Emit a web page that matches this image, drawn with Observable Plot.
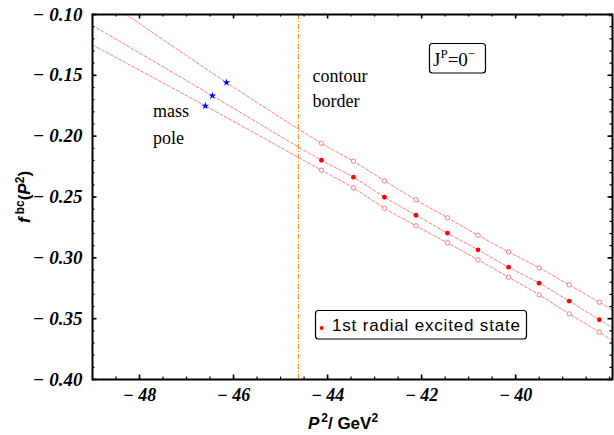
<!DOCTYPE html>
<html>
<head>
<meta charset="utf-8">
<script src="https://cdn.jsdelivr.net/npm/d3@7"></script>
<script src="https://cdn.jsdelivr.net/npm/@observablehq/plot@0.6"></script>
<style>
  html, body { margin: 0; padding: 0; background: white; }
  #chart { width: 614px; height: 435px; }
</style>
</head>
<body>
<div id="chart"></div>
<script>
// ---- data ----
const xPoints = [-44.13, -43.45, -42.79, -42.12, -41.45, -40.80, -40.15, -39.50, -38.86, -38.22];
const upperValues  = [-0.2058, -0.2206, -0.2367, -0.2523, -0.2671, -0.2814, -0.2951, -0.3082, -0.3222, -0.3365];
const middleValues = [-0.2198, -0.2337, -0.2502, -0.2650, -0.2797, -0.2934, -0.3077, -0.3208, -0.3356, -0.3509];
const lowerValues  = [-0.2280, -0.2425, -0.2592, -0.2737, -0.2877, -0.3016, -0.3159, -0.3304, -0.3460, -0.3611];
const seriesNames = ["upper", "middle", "lower"];
const starX = [-46.15, -46.45, -46.60];
const starY = [-0.1559, -0.1668, -0.1751];
// dashed fit curves where they meet the frame
const curveLeftX  = [-48.28, -49.0, -49.0];
const curveLeftY  = [-0.100, -0.109, -0.125];
const curveRightX = [-37.94, -37.94, -37.94];
const curveRightY = [-0.3425, -0.3577, -0.3680];
const contourX = -44.62;
const xTicks = [-48, -46, -44, -42, -40];
const yTicks = [-0.40, -0.35, -0.30, -0.25, -0.20, -0.15, -0.10];
const xDomain = [-49, -37.94];
const yDomain = [-0.40, -0.10];

// ---- tables built from the arrays ----
const seriesValues = [upperValues, middleValues, lowerValues];
const curveRows = [];
seriesNames.forEach((s, i) => {
  curveRows.push({s, x: curveLeftX[i], y: curveLeftY[i]});
  curveRows.push({s, x: starX[i], y: starY[i]});
  xPoints.forEach((x, j) => curveRows.push({s, x, y: seriesValues[i][j]}));
  curveRows.push({s, x: curveRightX[i], y: curveRightY[i]});
});
const openRows = [];
xPoints.forEach((x, j) => {
  openRows.push({x, y: upperValues[j]});
  openRows.push({x, y: lowerValues[j]});
});
const filledRows = xPoints.map((x, j) => ({x, y: middleValues[j]}));
const starRows = starX.map((x, i) => ({x, y: starY[i]}));

const xMinor = d3.range(-49, -37.9, 0.5);
const yMinor = d3.range(-0.40, -0.0995, 0.01);

const W = 614, H = 435, mT = 14, mR = 2, mB = 56, mL = 92;
const fw = W - mL - mR, fh = H - mT - mB;

const tickFont = {fontFamily: "Liberation Serif", fontWeight: "bold", fontStyle: "italic", fill: "black"};

const chart = Plot.plot({
  width: W, height: H,
  marginTop: mT, marginRight: mR, marginBottom: mB, marginLeft: mL,
  x: {domain: xDomain, axis: null},
  y: {domain: yDomain, axis: null},
  style: {background: "white", overflow: "visible"},
  marks: [
    Plot.line(curveRows, {x: "x", y: "y", z: "s", stroke: "#ff8080", strokeWidth: 1, strokeDasharray: "3,2", curve: "catmull-rom", clip: true}),
    Plot.ruleX([contourX], {stroke: "#ff8c00", strokeWidth: 1, strokeDasharray: "5,2,1,2"}),
    Plot.dot(openRows, {x: "x", y: "y", r: 2.2, stroke: "#ff7070", fill: "white", strokeWidth: 0.9}),
    Plot.dot(filledRows, {x: "x", y: "y", r: 2.4, fill: "#ff0000"}),
    Plot.dot(starRows, {x: "x", y: "y", symbol: "star", r: 2.4, fill: "#0000ff"}),
    // inward ticks
    Plot.ruleX(xMinor, {insetTop: fh - 2.5, stroke: "black", strokeWidth: 1.2}),
    Plot.ruleX(xMinor, {insetBottom: fh - 2.5, stroke: "black", strokeWidth: 1.2}),
    Plot.ruleX(xTicks, {insetTop: fh - 4.5, stroke: "black", strokeWidth: 1.6}),
    Plot.ruleX(xTicks, {insetBottom: fh - 4.5, stroke: "black", strokeWidth: 1.6}),
    Plot.ruleY(yMinor, {insetRight: fw - 2.5, stroke: "black", strokeWidth: 1.2}),
    Plot.ruleY(yMinor, {insetLeft: fw - 2.5, stroke: "black", strokeWidth: 1.2}),
    Plot.ruleY(yTicks, {insetRight: fw - 4.5, stroke: "black", strokeWidth: 1.6}),
    Plot.ruleY(yTicks, {insetLeft: fw - 4.5, stroke: "black", strokeWidth: 1.6}),
    // tick labels
    Plot.text(xTicks, {x: d => d, frameAnchor: "bottom", lineAnchor: "top", dy: 9, fontSize: 18, ...tickFont,
      text: d => "\u2212 " + Math.abs(d)}),
    Plot.text(yTicks, {y: d => d, frameAnchor: "left", textAnchor: "end", dx: -10, fontSize: 19, ...tickFont,
      text: d => "\u2212 " + Math.abs(d).toFixed(2)}),
    Plot.frame({stroke: "black", strokeWidth: 2})
  ]
});
document.getElementById("chart").appendChild(chart);

// ---- annotations ----
const svg = d3.select(chart);
function rich(x, y, parts, attrs) {
  const t = svg.append("text").attr("x", x).attr("y", y).attr("fill", "black").attr("text-anchor", "start");
  for (const k in attrs) t.attr(k, attrs[k]);
  let shift = 0;
  for (const p of parts) {
    const ts = t.append("tspan").text(p.t);
    const target = p.up ? -p.up : 0;
    if (target !== shift) { ts.attr("dy", target - shift); shift = target; }
    if (p.size) ts.attr("font-size", p.size);
    if (p.style) ts.attr("font-style", p.style);
    if (p.dx) ts.attr("dx", p.dx);
  }
  return t;
}
const serif = {"font-family": "Liberation Serif", "font-size": 18};
rich(153, 117, [{t: "mass"}], serif);
rich(153, 144, [{t: "pole"}], serif);
rich(312.5, 81.5, [{t: "contour"}], serif);
rich(312.5, 107, [{t: "border"}], serif);

svg.append("rect").attr("x", 429.5).attr("y", 43.5).attr("width", 56).attr("height", 29.5)
  .attr("rx", 3).attr("fill", "white").attr("stroke", "black").attr("stroke-width", 1.2);
rich(433, 66, [{t: "J"}, {t: "P", up: 8, size: 13}, {t: "=0"}, {t: "\u2212", up: 8, size: 13}],
  {"font-family": "Liberation Serif", "font-size": 19});

svg.append("rect").attr("x", 315.5).attr("y", 310.5).attr("width", 211).attr("height", 28.5)
  .attr("rx", 3).attr("fill", "white").attr("stroke", "black").attr("stroke-width", 1.2);
svg.append("circle").attr("cx", 321.7).attr("cy", 328).attr("r", 2).attr("fill", "#ff0000");
rich(332, 330.7, [{t: "1st radial excited state"}],
  {"font-family": "Liberation Sans", "font-size": 17, "textLength": 188, "lengthAdjust": "spacing"});

rich(343, 429, [{t: "P", style: "italic"}, {t: "2", up: 7, size: 12, dx: 2}, {t: "/ GeV"}, {t: "2", up: 7, size: 12}],
  {"font-family": "Liberation Sans", "font-size": 17, "font-weight": "bold", "text-anchor": "middle"});

rich(0, 0, [{t: "f", style: "italic"}, {t: "bc", up: 6, size: 12, dx: 3}, {t: "("}, {t: "P", style: "italic"}, {t: "2", up: 6, size: 12}, {t: ")"}],
  {"font-family": "Liberation Sans", "font-size": 17, "font-weight": "bold", "text-anchor": "start",
   "transform": "translate(30,223) rotate(-90)"});
</script>
</body>
</html>
